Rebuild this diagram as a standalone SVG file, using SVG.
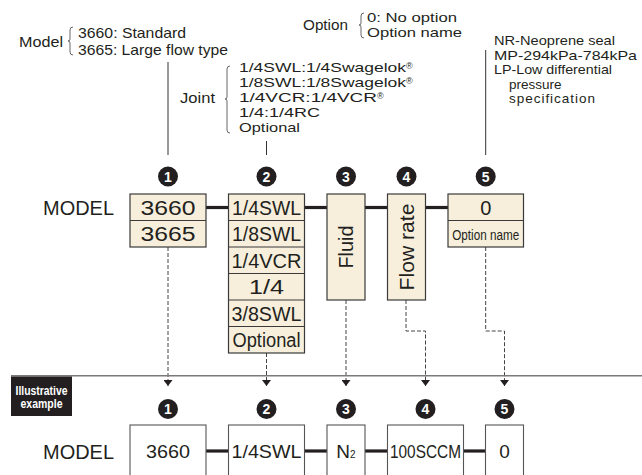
<svg xmlns="http://www.w3.org/2000/svg" width="642" height="475" viewBox="0 0 642 475">
<defs>
<style>
.t{font-family:"Liberation Sans","Noto Sans",Arial,sans-serif;fill:#231f20}
.box{fill:#f7efdc;stroke:#3a3a3a;stroke-width:1.2}
.wbox{fill:#fff;stroke:#555;stroke-width:1.1}
.bar{stroke:#231f20;stroke-width:3.2}
.dash{stroke:#444;stroke-width:1;stroke-dasharray:4 2;fill:none}
.brace{stroke:#555;fill:none;stroke-width:0.9}
.lead{stroke:#333;stroke-width:1}
.num{fill:#231f20}
.numt{font-family:"Liberation Sans",Arial,sans-serif;font-weight:bold;font-size:14px;fill:#fff;text-anchor:middle}
.bt{font-size:20px;text-anchor:middle}
.ex{font-size:19px;text-anchor:middle}
.small{font-size:13.5px}
.reg{font-size:9px}
</style>
<marker id="ah" viewBox="0 0 6 9" refX="6" refY="4.5" markerWidth="6" markerHeight="9" orient="auto" markerUnits="userSpaceOnUse">
<path d="M0,0 L6,4.5 L0,9 z" fill="#231f20"/>
</marker>
</defs>
<rect width="642" height="475" fill="#fff"/>

<!-- top annotations -->
<g id="note-model">
<text class="t" x="19" y="47" font-size="15" textLength="44" lengthAdjust="spacingAndGlyphs">Model</text>
<path class="brace" d="M73,27 Q70,27 70,30 L70,39 Q70,41 68,41 Q70,41 70,43 L70,52 Q70,55 73,55"/>
<text class="t" x="78" y="38" font-size="14.5" textLength="108" lengthAdjust="spacingAndGlyphs">3660: Standard</text>
<text class="t" x="78" y="55" font-size="14.5" textLength="150" lengthAdjust="spacingAndGlyphs">3665: Large flow type</text>
</g>
<g id="note-joint">
<text class="t" x="180" y="103" font-size="15" textLength="35" lengthAdjust="spacingAndGlyphs">Joint</text>
<path class="brace" d="M230,66 Q227,66 227,69 L227,97 Q227,99 225,99 Q227,99 227,101 L227,130 Q227,133 230,133"/>
<text class="t small" x="239" y="72"><tspan textLength="167" lengthAdjust="spacingAndGlyphs">1/4SWL:1/4Swagelok</tspan><tspan class="reg" dy="-3">®</tspan></text>
<text class="t small" x="239" y="87"><tspan textLength="167" lengthAdjust="spacingAndGlyphs">1/8SWL:1/8Swagelok</tspan><tspan class="reg" dy="-3">®</tspan></text>
<text class="t small" x="239" y="102"><tspan textLength="138" lengthAdjust="spacingAndGlyphs">1/4VCR:1/4VCR</tspan><tspan class="reg" dy="-3">®</tspan></text>
<text class="t small" x="239" y="117" textLength="81" lengthAdjust="spacingAndGlyphs">1/4:1/4RC</text>
<text class="t small" x="239" y="132" textLength="61" lengthAdjust="spacingAndGlyphs">Optional</text>
</g>
<g id="note-option">
<text class="t" x="303" y="29.5" font-size="14" textLength="45" lengthAdjust="spacingAndGlyphs">Option</text>
<path class="brace" d="M364,13 Q361,13 361,16 L361,23 Q361,25 359,25 Q361,25 361,27 L361,35 Q361,38 364,38"/>
<text class="t small" x="367" y="22" textLength="90" lengthAdjust="spacingAndGlyphs">0: No option</text>
<text class="t small" x="367" y="37" textLength="95" lengthAdjust="spacingAndGlyphs">Option name</text>
</g>
<g id="note-nr">
<text class="t small" x="494" y="45" textLength="121" lengthAdjust="spacingAndGlyphs">NR-Neoprene seal</text>
<text class="t small" x="494" y="59.5" textLength="143" lengthAdjust="spacingAndGlyphs">MP-294kPa-784kPa</text>
<text class="t small" x="494" y="74" textLength="118" lengthAdjust="spacingAndGlyphs">LP-Low differential</text>
<text class="t small" x="509" y="88.5">pressure</text>
<text class="t small" x="509" y="103" textLength="86" lengthAdjust="spacing">specification</text>
</g>

<!-- connectors -->
<g id="connectors">
<line class="lead" x1="168" y1="62" x2="168" y2="155"/>
<line class="lead" x1="266.5" y1="141" x2="266.5" y2="155"/>
<line class="lead" x1="485.7" y1="50" x2="485.7" y2="155"/>
<line class="bar" x1="206" y1="207.5" x2="228.5" y2="207.5"/>
<line class="bar" x1="304.5" y1="207.5" x2="327" y2="207.5"/>
<line class="bar" x1="365" y1="207.5" x2="387.5" y2="207.5"/>
<line class="bar" x1="425.5" y1="207.5" x2="448" y2="207.5"/>
<path class="dash" d="M168,247 V386" marker-end="url(#ah)"/>
<path class="dash" d="M266.5,353 V386" marker-end="url(#ah)"/>
<path class="dash" d="M346,300 V386" marker-end="url(#ah)"/>
<path class="dash" d="M406,300 V331 H425.5 V386" marker-end="url(#ah)"/>
<path class="dash" d="M485.7,247 V331 H504.5 V386" marker-end="url(#ah)"/>
<line x1="11" y1="375.8" x2="642" y2="375.8" stroke="#7a7a7a" stroke-width="1.4"/>
<line class="bar" x1="206" y1="451" x2="228.5" y2="451"/>
<line class="bar" x1="304.5" y1="451" x2="327" y2="451"/>
<line class="bar" x1="365" y1="451" x2="387.5" y2="451"/>
<line class="bar" x1="463.5" y1="451" x2="485.5" y2="451"/>
</g>

<!-- top row -->
<text class="t" x="43" y="215" font-size="20" textLength="71" lengthAdjust="spacingAndGlyphs">MODEL</text>
<g id="n1">
<circle class="num" cx="168" cy="176.5" r="10"/><text class="numt" x="168" y="181.5">1</text>
<rect class="box" x="130" y="194" width="76" height="53"/>
<line stroke="#3a3a3a" stroke-width="1.2" x1="130" y1="220.5" x2="206" y2="220.5"/>
<text class="t bt" x="168" y="214.5" textLength="55" lengthAdjust="spacingAndGlyphs">3660</text>
<text class="t bt" x="168" y="241" textLength="55" lengthAdjust="spacingAndGlyphs">3665</text>
</g>
<g id="n2">
<circle class="num" cx="266.5" cy="176.5" r="10"/><text class="numt" x="266.5" y="181.5">2</text>
<rect class="box" x="228.5" y="194" width="76" height="159"/>
<g stroke="#3a3a3a" stroke-width="1.2">
<line x1="228.5" y1="220.5" x2="304.5" y2="220.5"/>
<line x1="228.5" y1="247" x2="304.5" y2="247"/>
<line x1="228.5" y1="273.5" x2="304.5" y2="273.5"/>
<line x1="228.5" y1="300" x2="304.5" y2="300"/>
<line x1="228.5" y1="326.5" x2="304.5" y2="326.5"/>
</g>
<text class="t bt" x="266.5" y="214.5" textLength="69" lengthAdjust="spacingAndGlyphs">1/4SWL</text>
<text class="t bt" x="266.5" y="241" textLength="69" lengthAdjust="spacingAndGlyphs">1/8SWL</text>
<text class="t bt" x="266.5" y="267.5" textLength="70" lengthAdjust="spacingAndGlyphs">1/4VCR</text>
<text class="t bt" x="266.5" y="294" textLength="35" lengthAdjust="spacingAndGlyphs">1/4</text>
<text class="t bt" x="266.5" y="320.5" textLength="70" lengthAdjust="spacingAndGlyphs">3/8SWL</text>
<text class="t bt" x="266.5" y="347" font-size="18" textLength="68" lengthAdjust="spacingAndGlyphs">Optional</text>
</g>
<g id="n3">
<circle class="num" cx="346" cy="176.5" r="10"/><text class="numt" x="346" y="181.5">3</text>
<rect class="box" x="327" y="194" width="38" height="106"/>
<text class="t bt" transform="translate(353,247) rotate(-90)" x="0" y="0" textLength="43" lengthAdjust="spacingAndGlyphs">Fluid</text>
</g>
<g id="n4">
<circle class="num" cx="406.5" cy="176.5" r="10"/><text class="numt" x="406.5" y="181.5">4</text>
<rect class="box" x="387.5" y="194" width="38" height="106"/>
<text class="t bt" transform="translate(413.5,247) rotate(-90)" x="0" y="0" textLength="87" lengthAdjust="spacingAndGlyphs">Flow rate</text>
</g>
<g id="n5">
<circle class="num" cx="485.7" cy="176.5" r="10"/><text class="numt" x="485.7" y="181.5">5</text>
<rect class="box" x="448" y="194" width="75.5" height="53"/>
<line stroke="#3a3a3a" stroke-width="1.2" x1="448" y1="220.5" x2="523.5" y2="220.5"/>
<text class="t bt" x="485.7" y="214.5">0</text>
<text class="t" x="485.7" y="239.5" font-size="14" text-anchor="middle" textLength="67" lengthAdjust="spacingAndGlyphs">Option name</text>
</g>

<!-- example -->
<g id="example-label">
<rect x="11" y="376.5" width="61" height="39.5" fill="#231f20"/>
<text x="41.5" y="394.5" font-family="Liberation Sans,Arial,sans-serif" font-weight="bold" font-size="12" fill="#fff" text-anchor="middle" textLength="52" lengthAdjust="spacingAndGlyphs">Illustrative</text>
<text x="41.5" y="408" font-family="Liberation Sans,Arial,sans-serif" font-weight="bold" font-size="12" fill="#fff" text-anchor="middle" textLength="42" lengthAdjust="spacingAndGlyphs">example</text>
</g>
<text class="t" x="43" y="459" font-size="20" textLength="71" lengthAdjust="spacingAndGlyphs">MODEL</text>
<g id="e1">
<circle class="num" cx="168" cy="409" r="10"/><text class="numt" x="168" y="414">1</text>
<rect class="wbox" x="130" y="425" width="76" height="56"/>
<text class="t ex" x="168" y="457.5" textLength="44" lengthAdjust="spacingAndGlyphs">3660</text>
</g>
<g id="e2">
<circle class="num" cx="266.5" cy="409" r="10"/><text class="numt" x="266.5" y="414">2</text>
<rect class="wbox" x="228.5" y="425" width="76" height="56"/>
<text class="t ex" x="266.5" y="457.5" textLength="70" lengthAdjust="spacingAndGlyphs">1/4SWL</text>
</g>
<g id="e3">
<circle class="num" cx="346" cy="409" r="10"/><text class="numt" x="346" y="414">3</text>
<rect class="wbox" x="327" y="425" width="38" height="56"/>
<text class="t" x="346" y="457.5" font-size="19" text-anchor="middle">N<tspan font-size="10">2</tspan></text>
</g>
<g id="e4">
<circle class="num" cx="425.5" cy="409" r="10"/><text class="numt" x="425.5" y="414">4</text>
<rect class="wbox" x="387.5" y="425" width="76" height="56"/>
<text class="t ex" x="425.5" y="457.5" textLength="71" lengthAdjust="spacingAndGlyphs">100SCCM</text>
</g>
<g id="e5">
<circle class="num" cx="504.5" cy="409" r="10"/><text class="numt" x="504.5" y="414">5</text>
<rect class="wbox" x="485.5" y="425" width="38" height="56"/>
<text class="t ex" x="504.5" y="457.5">0</text>
</g>
</svg>
